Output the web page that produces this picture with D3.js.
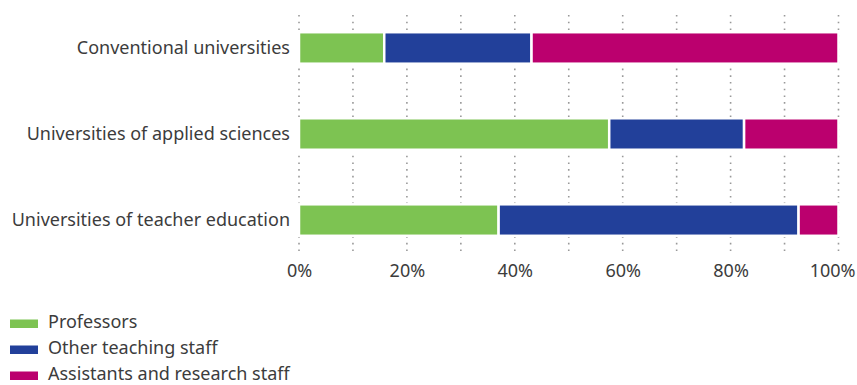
<!DOCTYPE html>
<html>
<head>
<meta charset="utf-8">
<script src="https://cdn.jsdelivr.net/npm/d3@7"></script>
<style>
  body { margin: 0; background: #fff; }
  text { font-family: "Noto Sans", sans-serif; fill: #3c3c3c; }
</style>
</head>
<body>
<div id="chart"></div>
<script>
// data (shares in %)
var categories = ["Conventional universities", "Universities of applied sciences", "Universities of teacher education"];
var seriesNames = ["Professors", "Other teaching staff", "Assistants and research staff"];
var professors = [15.8, 57.5, 37.0];
var otherStaff = [27.3, 25.0, 55.6];
var assistants = [56.9, 17.5, 7.4];
var tickValues = [0, 20, 40, 60, 80, 100];
var colors = ["#7dc352", "#22409a", "#bb006e"];

var width = 857, height = 385;
var margin = {left: 299, right: 18.5, top: 15, bottom: 253};

var svg = d3.select("#chart").append("svg")
    .attr("width", width)
    .attr("height", height);

var x = d3.scaleLinear().domain([0, 100]).range([margin.left, width - margin.right]);
var y = d3.scaleBand().domain(categories).range([margin.top, margin.bottom]).paddingInner(0.634).paddingOuter(0.2);

// table for stacking
var table = categories.map(function(c, i) {
  return {cat: c, Professors: professors[i], "Other teaching staff": otherStaff[i], "Assistants and research staff": assistants[i]};
});
var stack = d3.stack().keys(seriesNames)(table);

// dotted grid
svg.append("g")
  .selectAll("line")
  .data(d3.range(0, 101, 10))
  .enter().append("line")
  .attr("x1", function(d) { return x(d); })
  .attr("x2", function(d) { return x(d); })
  .attr("y1", margin.top)
  .attr("y2", margin.bottom - 1)
  .style("stroke", "#999")
  .style("stroke-width", 1.6)
  .style("stroke-dasharray", "1.6,5.1");

// bars
svg.append("g")
  .selectAll("g")
  .data(stack)
  .enter().append("g")
  .style("fill", function(d, i) { return colors[i]; })
  .selectAll("rect")
  .data(function(d) { return d; })
  .enter().append("rect")
  .attr("x", function(d) { return x(d[0]); })
  .attr("width", function(d) { return x(d[1]) - x(d[0]); })
  .attr("y", function(d) { return y(d.data.cat); })
  .attr("height", y.bandwidth())
  .style("stroke", "#fff")
  .style("stroke-width", 2.5);

// category labels
svg.append("g")
  .selectAll("text")
  .data(categories)
  .enter().append("text")
  .attr("x", margin.left - 9)
  .attr("y", function(d) { return y(d) + y.bandwidth() / 2; })
  .attr("dy", "0.35em")
  .attr("text-anchor", "end")
  .style("font-size", "18px")
  .text(function(d) { return d; });

// x axis labels
var xAxis = d3.axisBottom(x).tickValues(tickValues).tickSize(0).tickPadding(0)
  .tickFormat(function(d) { return d + "%"; });
var ax = svg.append("g")
  .attr("transform", "translate(0,277)")
  .call(xAxis);
ax.select(".domain").remove();
ax.selectAll("text")
  .attr("y", 0)
  .attr("dy", 0)
  .style("font-size", "18px")
  .style("font-family", "\"Noto Sans\", sans-serif")
  .style("fill", "#3c3c3c");
// last label kept inside the frame, as in the original
ax.selectAll(".tick").filter(function(d) { return d === 100; }).select("text")
  .attr("text-anchor", "end")
  .attr("x", width - 2 - x(100));

// legend
var legend = svg.append("g")
  .selectAll("g")
  .data(seriesNames)
  .enter().append("g")
  .attr("transform", function(d, i) { return "translate(10," + (319.5 + i * 26) + ")"; });
legend.append("rect")
  .attr("width", 28)
  .attr("height", 8.5)
  .style("fill", function(d, i) { return colors[i]; });
legend.append("text")
  .attr("x", 38)
  .attr("y", 8.5)
  .style("font-size", "18px")
  .text(function(d) { return d; });
</script>
</body>
</html>
